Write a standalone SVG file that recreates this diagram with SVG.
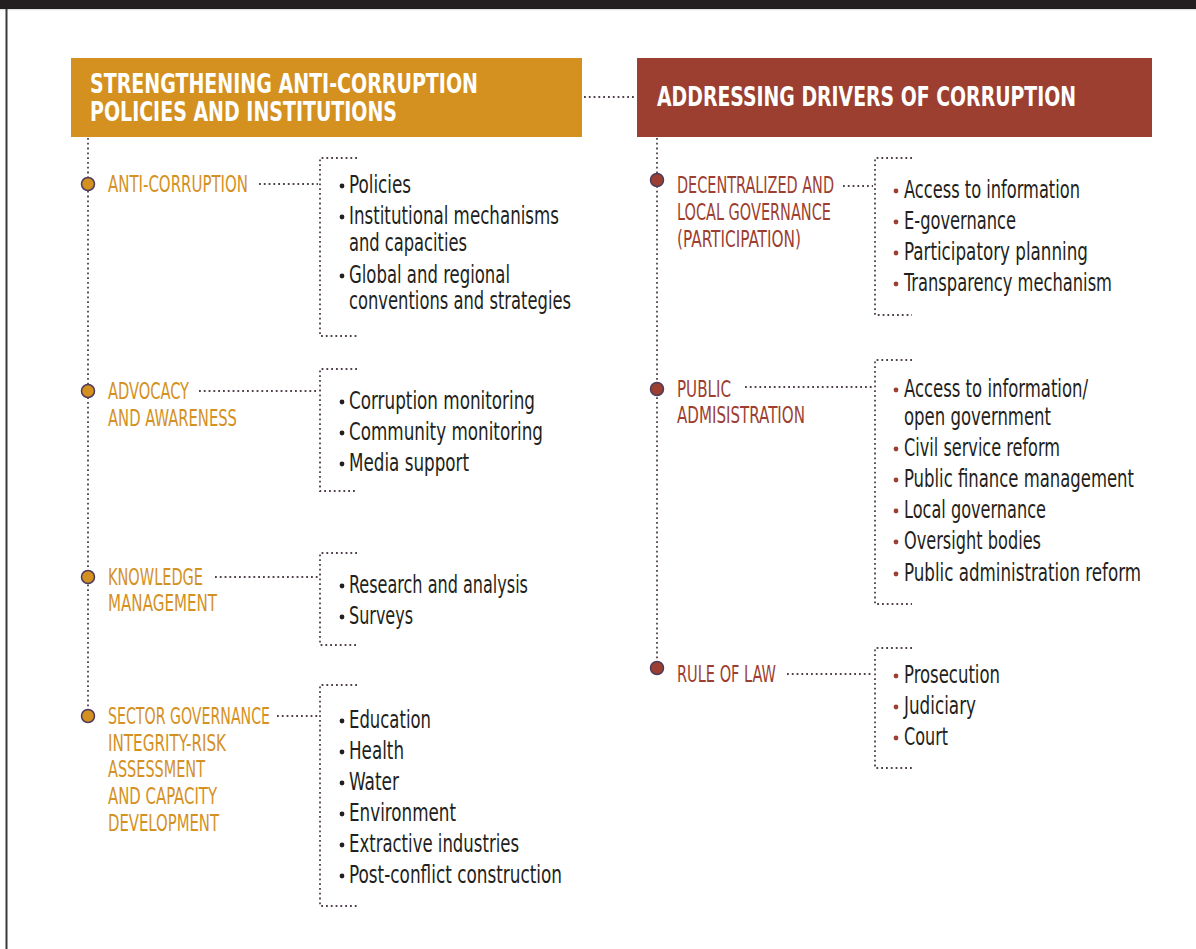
<svg xmlns="http://www.w3.org/2000/svg" width="1196" height="949" viewBox="0 0 1196 949">
<style>
.dot{fill:none;stroke:#4f3f4c;stroke-width:1.8;stroke-dasharray:1.8 3}
.hd{font-family:"Liberation Sans Narrow","DejaVu Sans Condensed","Liberation Sans",sans-serif;font-weight:bold;font-size:26px;fill:#ffffff}
.lg{font-family:"Liberation Sans Narrow","DejaVu Sans Condensed","Liberation Sans",sans-serif;font-size:23px;fill:#d4911f}
.lr{font-family:"Liberation Sans Narrow","DejaVu Sans Condensed","Liberation Sans",sans-serif;font-size:23px;fill:#9c3f31}
.it{font-family:"Liberation Sans Narrow","DejaVu Sans Condensed","Liberation Sans",sans-serif;font-size:24px;fill:#231f20}
.bk{fill:#231f20}
.br{fill:#9c3f31}
.cg{fill:#d4911f;stroke:#4d3b5c;stroke-width:1.5}
.cr{fill:#9c3f31;stroke:#4d3b5c;stroke-width:1.5}
</style>
<rect x="0" y="0" width="1196" height="949" fill="#ffffff"/>
<rect x="0" y="0" width="1196" height="9" fill="#231f20"/>
<rect x="0" y="9" width="1196" height="1.2" fill="#e2e2e2"/>
<rect x="5.5" y="9" width="2" height="940" fill="#3a3a3a"/>

<g id="connectors">
<path class="dot" d="M584 97H636"/>
<path class="dot" d="M88 138V716"/>
<path class="dot" d="M657 138V668"/>
<path class="dot" d="M259 184H318"/>
<path class="dot" d="M357 158H320V336H357"/>
<path class="dot" d="M199 391H318"/>
<path class="dot" d="M357 369H320V491H357"/>
<path class="dot" d="M215 577H318"/>
<path class="dot" d="M357 553H320V645H357"/>
<path class="dot" d="M277 716H318"/>
<path class="dot" d="M357 685H320V906H357"/>
<path class="dot" d="M843 186H873"/>
<path class="dot" d="M912 158H875V315H912"/>
<path class="dot" d="M745 387H873"/>
<path class="dot" d="M912 360H875V604H912"/>
<path class="dot" d="M787 674H873"/>
<path class="dot" d="M912 648H875V768H912"/>
</g>

<g id="header-left">
<rect x="71" y="58" width="511" height="79" fill="#d4911f"/>
<text class="hd" x="90" y="93" textLength="388" lengthAdjust="spacingAndGlyphs">STRENGTHENING ANTI-CORRUPTION</text>
<text class="hd" x="90" y="121" textLength="307" lengthAdjust="spacingAndGlyphs">POLICIES AND INSTITUTIONS</text>
</g>

<g id="header-right">
<rect x="637" y="58" width="515" height="79" fill="#9c3f31"/>
<text class="hd" x="657" y="106" textLength="419" lengthAdjust="spacingAndGlyphs">ADDRESSING DRIVERS OF CORRUPTION</text>
</g>

<g id="anti-corruption">
<circle class="cg" cx="88" cy="184" r="6.5"/>
<text class="lg" x="108" y="192" textLength="140" lengthAdjust="spacingAndGlyphs">ANTI-CORRUPTION</text>
<circle class="bk" cx="342" cy="186" r="2.4"/><text class="it" x="349" y="193" textLength="62" lengthAdjust="spacingAndGlyphs">Policies</text>
<circle class="bk" cx="342" cy="217" r="2.4"/><text class="it" x="349" y="224" textLength="210" lengthAdjust="spacingAndGlyphs">Institutional mechanisms</text>
<text class="it" x="349" y="251" textLength="118" lengthAdjust="spacingAndGlyphs">and capacities</text>
<circle class="bk" cx="342" cy="276" r="2.4"/><text class="it" x="349" y="283" textLength="161" lengthAdjust="spacingAndGlyphs">Global and regional</text>
<text class="it" x="349" y="309" textLength="222" lengthAdjust="spacingAndGlyphs">conventions and strategies</text>
</g>

<g id="advocacy">
<circle class="cg" cx="88" cy="391" r="6.5"/>
<text class="lg" x="108" y="399" textLength="81" lengthAdjust="spacingAndGlyphs">ADVOCACY</text>
<text class="lg" x="108" y="426" textLength="129" lengthAdjust="spacingAndGlyphs">AND AWARENESS</text>
<circle class="bk" cx="342" cy="402" r="2.4"/><text class="it" x="349" y="409" textLength="186" lengthAdjust="spacingAndGlyphs">Corruption monitoring</text>
<circle class="bk" cx="342" cy="433" r="2.4"/><text class="it" x="349" y="440" textLength="194" lengthAdjust="spacingAndGlyphs">Community monitoring</text>
<circle class="bk" cx="342" cy="464" r="2.4"/><text class="it" x="349" y="471" textLength="120" lengthAdjust="spacingAndGlyphs">Media support</text>
</g>

<g id="knowledge">
<circle class="cg" cx="88" cy="577" r="6.5"/>
<text class="lg" x="108" y="585" textLength="95" lengthAdjust="spacingAndGlyphs">KNOWLEDGE</text>
<text class="lg" x="108" y="611" textLength="109" lengthAdjust="spacingAndGlyphs">MANAGEMENT</text>
<circle class="bk" cx="342" cy="586" r="2.4"/><text class="it" x="349" y="593" textLength="179" lengthAdjust="spacingAndGlyphs">Research and analysis</text>
<circle class="bk" cx="342" cy="617" r="2.4"/><text class="it" x="349" y="624" textLength="64" lengthAdjust="spacingAndGlyphs">Surveys</text>
</g>

<g id="sector-governance">
<circle class="cg" cx="88" cy="716" r="6.5"/>
<text class="lg" x="108" y="724" textLength="162" lengthAdjust="spacingAndGlyphs">SECTOR GOVERNANCE</text>
<text class="lg" x="108" y="751" textLength="118" lengthAdjust="spacingAndGlyphs">INTEGRITY-RISK</text>
<text class="lg" x="108" y="777" textLength="97" lengthAdjust="spacingAndGlyphs">ASSESSMENT</text>
<text class="lg" x="108" y="804" textLength="109" lengthAdjust="spacingAndGlyphs">AND CAPACITY</text>
<text class="lg" x="108" y="831" textLength="111" lengthAdjust="spacingAndGlyphs">DEVELOPMENT</text>
<circle class="bk" cx="342" cy="721" r="2.4"/><text class="it" x="349" y="728" textLength="82" lengthAdjust="spacingAndGlyphs">Education</text>
<circle class="bk" cx="342" cy="752" r="2.4"/><text class="it" x="349" y="759" textLength="55" lengthAdjust="spacingAndGlyphs">Health</text>
<circle class="bk" cx="342" cy="783" r="2.4"/><text class="it" x="349" y="790" textLength="50" lengthAdjust="spacingAndGlyphs">Water</text>
<circle class="bk" cx="342" cy="814" r="2.4"/><text class="it" x="349" y="821" textLength="107" lengthAdjust="spacingAndGlyphs">Environment</text>
<circle class="bk" cx="342" cy="845" r="2.4"/><text class="it" x="349" y="852" textLength="170" lengthAdjust="spacingAndGlyphs">Extractive industries</text>
<circle class="bk" cx="342" cy="876" r="2.4"/><text class="it" x="349" y="883" textLength="213" lengthAdjust="spacingAndGlyphs">Post-conflict construction</text>
</g>

<g id="decentralized">
<circle class="cr" cx="657" cy="180" r="6.5"/>
<text class="lr" x="677" y="193" textLength="157" lengthAdjust="spacingAndGlyphs">DECENTRALIZED AND</text>
<text class="lr" x="677" y="220" textLength="154" lengthAdjust="spacingAndGlyphs">LOCAL GOVERNANCE</text>
<text class="lr" x="677" y="247" textLength="124" lengthAdjust="spacingAndGlyphs">(PARTICIPATION)</text>
<circle class="br" cx="896" cy="191" r="2.4"/><text class="it" x="904" y="198" textLength="176" lengthAdjust="spacingAndGlyphs">Access to information</text>
<circle class="br" cx="896" cy="222" r="2.4"/><text class="it" x="904" y="229" textLength="112" lengthAdjust="spacingAndGlyphs">E-governance</text>
<circle class="br" cx="896" cy="253" r="2.4"/><text class="it" x="904" y="260" textLength="184" lengthAdjust="spacingAndGlyphs">Participatory planning</text>
<circle class="br" cx="896" cy="284" r="2.4"/><text class="it" x="904" y="291" textLength="208" lengthAdjust="spacingAndGlyphs">Transparency mechanism</text>
</g>

<g id="public-administration">
<circle class="cr" cx="657" cy="389" r="6.5"/>
<text class="lr" x="677" y="397" textLength="54" lengthAdjust="spacingAndGlyphs">PUBLIC</text>
<text class="lr" x="677" y="423" textLength="128" lengthAdjust="spacingAndGlyphs">ADMISISTRATION</text>
<circle class="br" cx="896" cy="390" r="2.4"/><text class="it" x="904" y="397" textLength="184" lengthAdjust="spacingAndGlyphs">Access to information/</text>
<text class="it" x="904" y="425" textLength="147" lengthAdjust="spacingAndGlyphs">open government</text>
<circle class="br" cx="896" cy="449" r="2.4"/><text class="it" x="904" y="456" textLength="156" lengthAdjust="spacingAndGlyphs">Civil service reform</text>
<circle class="br" cx="896" cy="480" r="2.4"/><text class="it" x="904" y="487" textLength="230" lengthAdjust="spacingAndGlyphs">Public finance management</text>
<circle class="br" cx="896" cy="511" r="2.4"/><text class="it" x="904" y="518" textLength="142" lengthAdjust="spacingAndGlyphs">Local governance</text>
<circle class="br" cx="896" cy="542" r="2.4"/><text class="it" x="904" y="549" textLength="137" lengthAdjust="spacingAndGlyphs">Oversight bodies</text>
<circle class="br" cx="896" cy="574" r="2.4"/><text class="it" x="904" y="581" textLength="237" lengthAdjust="spacingAndGlyphs">Public administration reform</text>
</g>

<g id="rule-of-law">
<circle class="cr" cx="657" cy="668" r="6.5"/>
<text class="lr" x="677" y="682" textLength="99" lengthAdjust="spacingAndGlyphs">RULE OF LAW</text>
<circle class="br" cx="896" cy="676" r="2.4"/><text class="it" x="904" y="683" textLength="96" lengthAdjust="spacingAndGlyphs">Prosecution</text>
<circle class="br" cx="896" cy="707" r="2.4"/><text class="it" x="904" y="714" textLength="72" lengthAdjust="spacingAndGlyphs">Judiciary</text>
<circle class="br" cx="896" cy="738" r="2.4"/><text class="it" x="904" y="745" textLength="44" lengthAdjust="spacingAndGlyphs">Court</text>
</g>
</svg>
